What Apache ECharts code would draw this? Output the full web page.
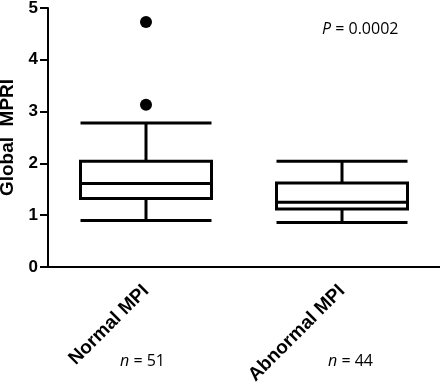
<!DOCTYPE html>
<html><head><meta charset="utf-8">
<script src="https://cdn.jsdelivr.net/npm/echarts@6/dist/echarts.min.js"></script>
<style>html,body{margin:0;padding:0;background:#fff}#c{width:440px;height:388px}</style>
</head><body><div id="c"></div>
<script>
const categories = ['Normal MPI', 'Abnormal MPI'];
const groupN = ['51', '44'];
// [lower whisker, Q1, median, Q3, upper whisker]
const normalBox = [0.90, 1.32, 1.61, 2.04, 2.78];
const abnormalBox = [0.86, 1.12, 1.25, 1.62, 2.04];
const normalOutliers = [3.13, 4.73];
const abnormalOutliers = [];
const yTicks = [0, 1, 2, 3, 4, 5];
const pText = '0.0002';

const chart = echarts.init(document.getElementById('c'));
const outlierData = [];
normalOutliers.forEach(v => outlierData.push([0, v]));
abnormalOutliers.forEach(v => outlierData.push([1, v]));

const italic = { i: { fontStyle: 'italic', fontSize: 16, fontFamily: 'Open Sans', fill: '#000' } };

chart.setOption({
  animation: false,
  backgroundColor: '#fff',
  grid: { left: 48, right: 0, top: 8, bottom: 121, containLabel: false, outerBoundsMode: 'none' },
  xAxis: {
    type: 'category',
    data: categories,
    boundaryGap: true,
    axisLine: { lineStyle: { color: '#000', width: 2 } },
    axisTick: { alignWithLabel: true, length: 7, lineStyle: { color: '#000', width: 2 }, interval: 0 },
    axisLabel: { rotate: 45, color: '#000', fontWeight: 'bold', fontSize: 19, fontFamily: 'Liberation Sans, Arial', margin: 21, interval: 0 }
  },
  yAxis: {
    type: 'value',
    min: yTicks[0], max: yTicks[yTicks.length - 1], interval: 1,
    name: 'Global  MPRI',
    nameLocation: 'middle',
    nameGap: 29,
    nameTextStyle: { color: '#000', fontWeight: 'bold', fontSize: 19, fontFamily: 'Liberation Sans, Arial' },
    axisLine: { show: true, lineStyle: { color: '#000', width: 2 } },
    axisTick: { show: true, length: 8, lineStyle: { color: '#000', width: 2 } },
    splitLine: { show: false },
    axisLabel: { color: '#000', fontWeight: 'bold', fontSize: 17, fontFamily: 'Liberation Sans, Arial', margin: 10 }
  },
  series: [
    {
      type: 'boxplot',
      data: [normalBox, abnormalBox],
      boxWidth: [131, 131],
      itemStyle: { color: '#fff', borderColor: '#000', borderWidth: 3 },
      emphasis: { disabled: true }
    },
    {
      type: 'scatter',
      data: outlierData,
      symbolSize: 12,
      itemStyle: { color: '#000', opacity: 1 }
    }
  ],
  graphic: [
    { type: 'text', left: 120, top: 353, style: { text: '{i|n} = ' + groupN[0], rich: italic, fontSize: 16, fontFamily: 'Open Sans', fill: '#000' } },
    { type: 'text', left: 328, top: 353, style: { text: '{i|n} = ' + groupN[1], rich: italic, fontSize: 16, fontFamily: 'Open Sans', fill: '#000' } },
    { type: 'text', left: 322, top: 21, style: { text: '{i|P} = ' + pText, rich: italic, fontSize: 16, fontFamily: 'Open Sans', fill: '#000' } }
  ]
});
</script></body></html>
